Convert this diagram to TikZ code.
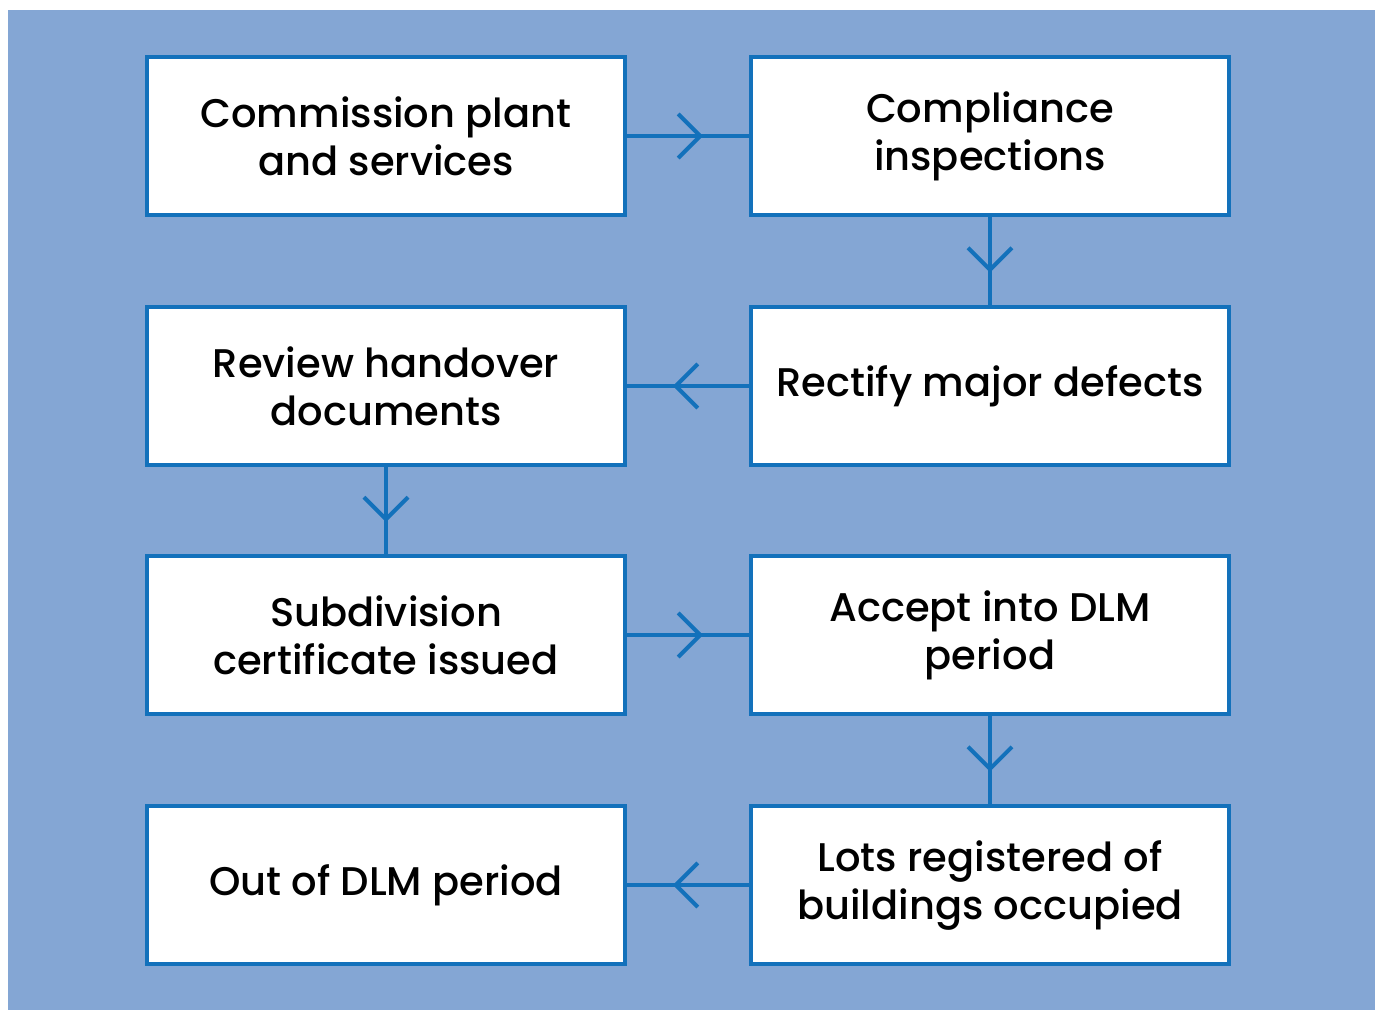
\documentclass[tikz,border=0pt]{standalone}
\usepackage{fontspec}
\setmainfont{Poppins}[UprightFont=* Medium]
\usetikzlibrary{decorations.markings}

\definecolor{bgblue}{RGB}{132,166,212}
\definecolor{lineblue}{RGB}{19,113,187}

\begin{document}
\begin{tikzpicture}[
		x=1pt, y=-1pt,
		box/.style={
				draw=lineblue,
				fill=white,
				line width=4pt,
				minimum width=478pt,
				minimum height=158pt,
				align=center,
				font=\fontsize{40}{48}\selectfont,
			},
		link/.style={
				draw=lineblue,
				line width=4pt,
				postaction={decorate},
				decoration={markings,
						mark=at position .6 with {
								\draw[lineblue, line width=4pt, line cap=butt]
									(-22pt,22pt) -- (0pt,0pt) -- (-22pt,-22pt);
							}},
			},
	]

	\useasboundingbox (0,0) rectangle (1375,1010);
	\fill[bgblue] (8,10) rectangle (1375,1010);

	\node[box] (commission) at (386,136) {Commission plant\\and services};
	\node[box] (compliance) at (990,136) {Compliance\\inspections};
	\node[box] (review) at (386,386) {Review handover\\documents};
	\node[box] (rectify) at (990,386) {Rectify major defects};
	\node[box] (certificate) at (386,635) {Subdivision\\certificate issued};
	\node[box] (accept) at (990,635) {Accept into DLM\\period};
	\node[box] (out) at (386,885) {Out of DLM period};
	\node[box] (lots) at (990,885) {Lots registered of\\buildings occupied};

	\draw[link] (commission) -- (compliance);
	\draw[link] (compliance) -- (rectify);
	\draw[link] (rectify) -- (review);
	\draw[link] (review) -- (certificate);
	\draw[link] (certificate) -- (accept);
	\draw[link] (accept) -- (lots);
	\draw[link] (lots) -- (out);
\end{tikzpicture}
\end{document}
